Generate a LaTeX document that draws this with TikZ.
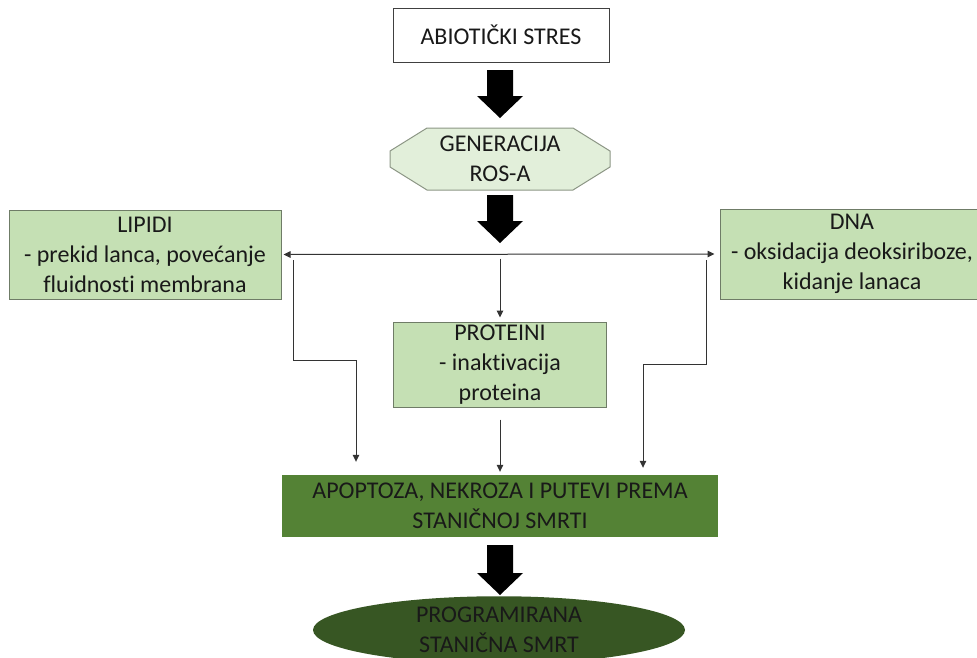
\documentclass[tikz,border=0pt]{standalone}
\usepackage{fontspec}
\setmainfont[Ligatures=NoCommon]{Carlito}
\usetikzlibrary{arrows.meta}
\usetikzlibrary{calc}
\usetikzlibrary{shapes.geometric}

\definecolor{leafgreen}{HTML}{C5E0B4}
\definecolor{palegreen}{HTML}{E2EFDA}
\definecolor{midgreen}{HTML}{548235}
\definecolor{darkgreen}{HTML}{375623}
\definecolor{edgegray}{HTML}{6F7C67}

\tikzset{
  every node/.style={font=\fontsize{24}{30}\selectfont, text=black!90, align=center, inner sep=1pt},
  box/.style={draw=edgegray, line width=1pt, fill=leafgreen},
  link/.style={draw=black!80, line width=1pt},
  >={Triangle[length=7pt,width=6.5pt]},
}

\newcommand{\blockarrow}[2]{%
  \fill[black] ($(#1)+(-13,0)$) -- ($(#1)+(13,0)$) -- ($(#2)+(13,-22)$) -- ($(#2)+(23,-22)$)
    -- (#2) -- ($(#2)+(-23,-22)$) -- ($(#2)+(-13,-22)$) -- cycle;}

\begin{document}
\begin{tikzpicture}[x=1pt,y=-1pt]
                \useasboundingbox (0,0) rectangle (977,657);
                \clip (0,0) rectangle (977,657);
                \coordinate (rosc) at (500,159);
                \filldraw[draw=edgegray!80, line width=1pt, fill=palegreen]
                    ($(rosc)+(-73,-31)$) -- ($(rosc)+(73,-31)$) -- ($(rosc)+(110,-8)$) -- ($(rosc)+(110,8)$)
                    -- ($(rosc)+(73,31)$) -- ($(rosc)+(-73,31)$) -- ($(rosc)+(-110,8)$) -- ($(rosc)+(-110,-8)$) -- cycle;
                \node[draw=black!75, line width=1pt, fill=white, minimum width=216pt, minimum height=54pt] (abio) at (501,35) {ABIOTIČKI STRES};
                \node (ros) at (rosc) {GENERACIJA\\ROS-A};
                \node[box, minimum width=272pt, minimum height=89pt] (lipidi) at (145,254.5) {LIPIDI\\- prekid lanca, povećanje\\fluidnosti membrana};
                \node[box, minimum width=264pt, minimum height=90pt] (dna) at (852,254) {DNA\\- oksidacija deoksiriboze,\\kidanje lanaca};
                \node[box, minimum width=213pt, minimum height=85pt] (prot) at (500,364.5) {PROTEINI\\- inaktivacija\\proteina};
                \node[fill=midgreen, minimum width=436pt, minimum height=62pt] (apop) at (500,506) {APOPTOZA, NEKROZA I PUTEVI PREMA\\STANIČNOJ SMRTI};
                \node[ellipse, fill=darkgreen, minimum width=372pt, minimum height=64pt] (prog) at (499,630) {PROGRAMIRANA\\STANIČNA SMRT};
                \coordinate (a1) at (500,70);
                \coordinate (t1) at (500,118);
                \coordinate (a2) at (500,195);
                \coordinate (t2) at (500,243);
                \coordinate (a3) at (500,545);
                \coordinate (t3) at (500,595);
                \blockarrow{a1}{t1}
                \blockarrow{a2}{t2}
                \blockarrow{a3}{t3}
                \coordinate (ldrop) at (293,260);
                \coordinate (lbend) at (356,360);
                \coordinate (rdrop) at (706,260);
                \coordinate (rbend) at (643,364);
                \draw[link, <->, shorten <=2pt, shorten >=5pt] (lipidi.east) -- (dna.west);
                \draw[link, ->, shorten <=4pt, shorten >=4pt] (lipidi.east -| prot.north) -- (prot.north);
                \draw[link, ->, shorten <=12pt, shorten >=3pt] (prot.south) -- (apop.north);
                \draw[link, ->, shorten >=13pt] (ldrop) |- (lbend) -- (lbend |- apop.north);
                \draw[link, ->, shorten >=7pt] (rdrop) |- (rbend) -- (rbend |- apop.north);
            \end{tikzpicture}
\end{document}
